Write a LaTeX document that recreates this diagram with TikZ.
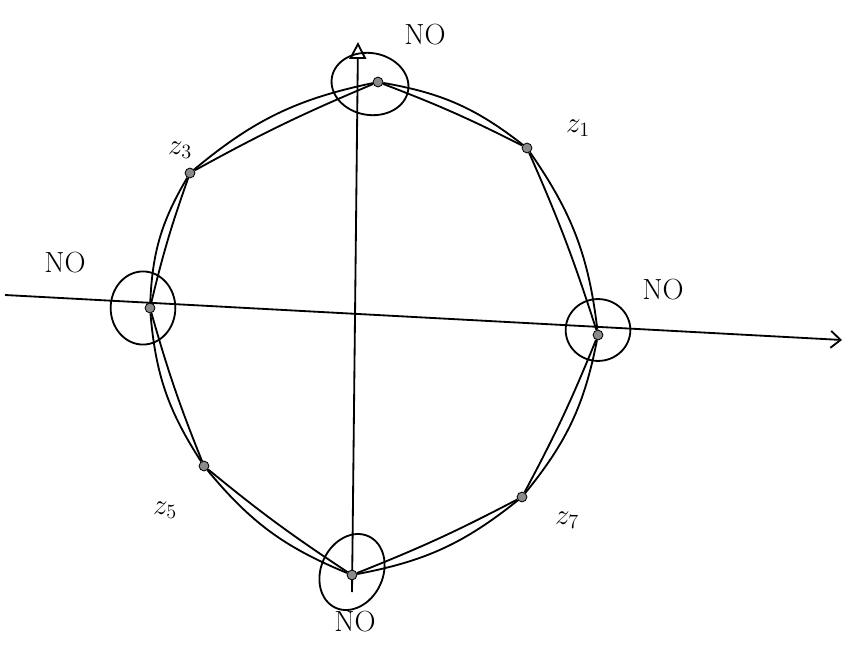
\documentclass[tikz,border=0pt]{standalone}
\usepackage{tikz}
\usetikzlibrary{arrows.meta, positioning, shapes.geometric}
\definecolor{dotfill}{HTML}{8A8A8A}

\begin{document}
\begin{tikzpicture}[x=0.025cm, y=-0.025cm, line width=1.3pt,
    every node/.style={font=\huge},
    dot/.style={circle, draw, fill=dotfill, line width=0.6pt, inner sep=0pt, minimum size=7pt},
    loopmark/.style={ellipse, draw, line width=1.3pt, inner sep=0pt}]
                \useasboundingbox (0,0) rectangle (854,644);
                % axes
                \coordinate (xl) at (5,295);
                \coordinate (xr) at (842,340);
                \coordinate (yb) at (352,592);
                \coordinate (yt) at (358,42);
                \draw[-{Straight Barb[length=7pt,width=12pt]}] (xl) -- (xr);
                \draw[-{Triangle[open,length=12pt,width=12pt]}] (yb) -- (yt);
                % points on the circle
                \node[dot] (pN) at (378,82) {};
                \node[dot] (p1) at (527,148) {};
                \node[dot] (pE) at (598,335) {};
                \node[dot] (p7) at (522,497) {};
                \node[dot] (pS) at (352,575) {};
                \node[dot] (p5) at (204,466) {};
                \node[dot] (pW) at (150,308) {};
                \node[dot] (p3) at (190,173) {};
                % lenses between neighbours
                \foreach \a/\b in {pN/p1, p1/pE, pE/p7, p7/pS, pS/p5, p5/pW, pW/p3, p3/pN} {
                    \draw (\a) to[bend left=3] (\b);
                    \draw (\a) to[bend left=14] (\b);
                }
                % loops round the excluded points
                \node[loopmark, minimum width=55pt, minimum height=44pt, rotate=-10] (lN) at (370,84) {};
                \node[loopmark, minimum width=46pt, minimum height=52pt] (lW) at (143,308) {};
                \node[loopmark, minimum width=46pt, minimum height=44pt] (lE) at (598,330) {};
                \node[loopmark, minimum width=44pt, minimum height=56pt, rotate=-25] (lS) at (352,572) {};
                % labels
                \node (tN) at (425,35) {NO};
                \node (tW) at (65,263) {NO};
                \node (tE) at (663,290) {NO};
                \node (tS) at (355,622) {NO};
                \node (t1) at (578,128) {$z_1$};
                \node (t3) at (180,150) {$z_3$};
                \node (t5) at (165,510) {$z_5$};
                \node (t7) at (567,520) {$z_7$};
            \end{tikzpicture}
\end{document}
